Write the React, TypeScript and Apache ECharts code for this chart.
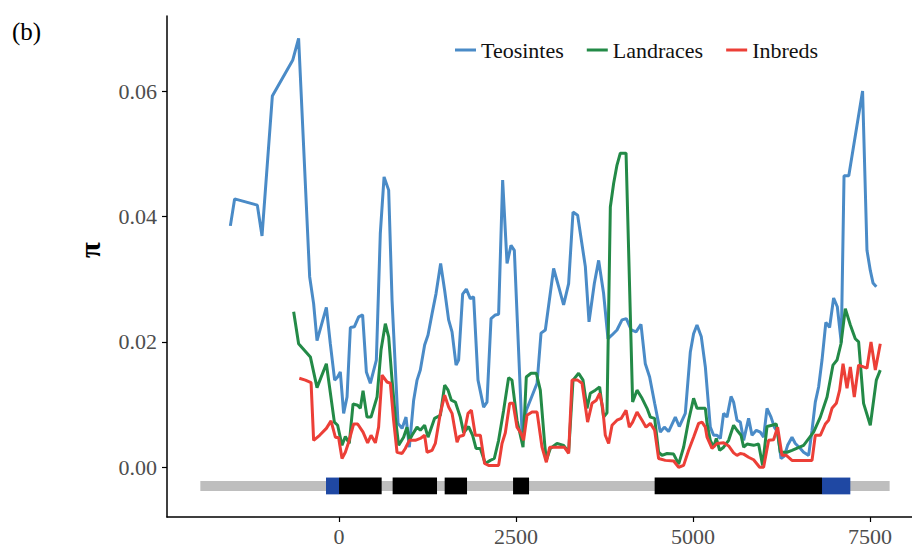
import React, { useEffect, useRef } from "react";
import * as echarts from "echarts";

// x positions (bp) and nucleotide diversity (pi)
const teosintes: [number, number][] = [
  [-1535,0.0385],[-1475,0.0428],[-1154,0.0418],[-1088,0.0369],[-942,0.0592],[-655,0.0649],[-571,0.0684],[-415,0.0304],[-359,0.0261],[-311,0.0202],[-179,0.0255],[-123,0.0197],[-62,0.0139],[-20,0.0144],[18,0.0152],[65,0.0086],[113,0.0112],[160,0.0223],[216,0.0224],[277,0.0240],[333,0.0243],[386,0.0152],[442,0.0134],[527,0.0171],[583,0.0373],[636,0.0463],[701,0.0442],[749,0.0266],[833,0.0070],[890,0.0062],[946,0.0080],[993,0.0032],[1054,0.0107],[1102,0.0139],[1148,0.0155],[1209,0.0195],[1257,0.0211],[1314,0.0245],[1370,0.0277],[1435,0.0325],[1492,0.0282],[1548,0.0235],[1596,0.0216],[1653,0.0163],[1689,0.0171],[1746,0.0276],[1798,0.0284],[1854,0.0269],[1901,0.0272],[1963,0.0139],[2042,0.0096],[2090,0.0104],[2147,0.0237],[2208,0.0243],[2254,0.0244],[2311,0.0458],[2373,0.0325],[2429,0.0354],[2476,0.0346],[2585,0.0056],[2646,0.0091],[2797,0.0134],[2853,0.0214],[2914,0.0219],[3031,0.0317],[3102,0.0288],[3172,0.0259],[3243,0.0293],[3305,0.0407],[3370,0.0402],[3479,0.0320],[3531,0.0232],[3606,0.0293],[3667,0.0330],[3737,0.0277],[3799,0.0205],[3856,0.0211],[3926,0.0219],[3997,0.0235],[4058,0.0237],[4128,0.0219],[4195,0.0216],[4265,0.0228],[4326,0.0165],[4387,0.0144],[4458,0.0102],[4538,0.0056],[4595,0.0064],[4655,0.0057],[4750,0.0080],[4806,0.0065],[4891,0.0086],[4962,0.0184],[5008,0.0213],[5056,0.0227],[5117,0.0208],[5174,0.0160],[5244,0.0064],[5291,0.0051],[5339,0.0051],[5386,0.0046],[5432,0.0086],[5480,0.0080],[5537,0.0113],[5573,0.0104],[5621,0.0075],[5668,0.0072],[5715,0.0043],[5785,0.0078],[5833,0.0051],[5894,0.0059],[5950,0.0056],[5997,0.0048],[6045,0.0094],[6102,0.0080],[6148,0.0064],[6195,0.0056],[6243,0.0014],[6290,0.0018],[6336,0.0035],[6398,0.0048],[6445,0.0038],[6516,0.0030],[6562,0.0024],[6633,0.0019],[6681,0.0059],[6727,0.0104],[6774,0.0128],[6822,0.0171],[6876,0.0231],[6929,0.0223],[6986,0.0270],[7038,0.0256],[7094,0.0199],[7133,0.0465],[7200,0.0465],[7395,0.0600],[7457,0.0346],[7504,0.0314],[7542,0.0294],[7589,0.0288]
];

const landraces: [number, number][] = [
  [-641,0.0248],[-571,0.0197],[-405,0.0176],[-311,0.0127],[-179,0.0165],[-66,0.0072],[-20,0.0067],[42,0.0035],[89,0.0049],[145,0.0038],[198,0.0101],[263,0.0099],[301,0.0094],[339,0.0122],[395,0.0080],[452,0.0080],[537,0.0112],[593,0.0187],[654,0.0229],[701,0.0208],[749,0.0139],[795,0.0080],[842,0.0035],[912,0.0048],[960,0.0064],[993,0.0043],[1031,0.0051],[1102,0.0064],[1148,0.0059],[1209,0.0067],[1257,0.0048],[1350,0.0078],[1431,0.0083],[1492,0.0131],[1540,0.0123],[1586,0.0107],[1643,0.0104],[1713,0.0080],[1760,0.0055],[1830,0.0065],[1887,0.0051],[1935,0.0030],[1996,0.0030],[2066,0.0006],[2137,0.0011],[2193,0.0014],[2254,0.0043],[2325,0.0091],[2395,0.0143],[2443,0.0139],[2514,0.0075],[2599,0.0032],[2645,0.0144],[2712,0.0150],[2787,0.0150],[2843,0.0123],[2904,0.0038],[2928,0.0011],[2984,0.0030],[3079,0.0038],[3172,0.0035],[3243,0.0024],[3305,0.0139],[3384,0.0150],[3446,0.0139],[3503,0.0094],[3549,0.0118],[3620,0.0123],[3681,0.0128],[3737,0.0080],[3785,0.0087],[3832,0.0415],[3879,0.0453],[3926,0.0482],[3973,0.0501],[4054,0.0501],[4147,0.0104],[4209,0.0123],[4280,0.0110],[4350,0.0094],[4397,0.0080],[4458,0.0078],[4514,0.0024],[4562,0.0019],[4633,0.0022],[4726,0.0021],[4797,0.0005],[4867,0.0032],[4938,0.0075],[5008,0.0110],[5056,0.0094],[5174,0.0094],[5198,0.0070],[5244,0.0043],[5291,0.0032],[5329,0.0046],[5376,0.0027],[5432,0.0032],[5503,0.0043],[5573,0.0067],[5621,0.0059],[5678,0.0051],[5715,0.0032],[5763,0.0037],[5856,0.0035],[5926,0.0037],[5983,0.0003],[6045,0.0065],[6116,0.0067],[6176,0.0069],[6233,0.0024],[6328,0.0024],[6398,0.0027],[6562,0.0035],[6703,0.0056],[6798,0.0080],[6893,0.0112],[6977,0.0163],[7034,0.0171],[7090,0.0197],[7151,0.0253],[7222,0.0227],[7292,0.0205],[7339,0.0200],[7409,0.0102],[7504,0.0067],[7589,0.0139],[7645,0.0155]
];

const inbreds: [number, number][] = [
  [-561,0.0142],[-476,0.0139],[-395,0.0135],[-359,0.0043],[-274,0.0051],[-179,0.0062],[-113,0.0074],[-52,0.0048],[-6,0.0047],[42,0.0014],[89,0.0024],[136,0.0040],[206,0.0069],[263,0.0069],[339,0.0056],[404,0.0039],[452,0.0051],[513,0.0039],[559,0.0064],[607,0.0147],[678,0.0136],[725,0.0134],[771,0.0075],[819,0.0024],[890,0.0022],[936,0.0030],[993,0.0043],[1078,0.0043],[1148,0.0046],[1209,0.0051],[1243,0.0024],[1314,0.0027],[1360,0.0038],[1431,0.0086],[1492,0.0115],[1548,0.0096],[1596,0.0086],[1667,0.0040],[1699,0.0049],[1760,0.0051],[1822,0.0086],[1869,0.0091],[1925,0.0051],[1996,0.0051],[2056,0.0006],[2113,0.0003],[2254,0.0003],[2302,0.0038],[2349,0.0055],[2410,0.0102],[2458,0.0102],[2514,0.0064],[2571,0.0054],[2607,0.0043],[2655,0.0083],[2726,0.0088],[2797,0.0088],[2867,0.0032],[2928,0.0008],[2975,0.0032],[3182,0.0032],[3243,0.0022],[3291,0.0139],[3370,0.0139],[3432,0.0134],[3511,0.0072],[3573,0.0102],[3634,0.0107],[3681,0.0118],[3723,0.0096],[3761,0.0051],[3808,0.0038],[3856,0.0067],[3926,0.0075],[3987,0.0078],[4054,0.0091],[4100,0.0064],[4147,0.0072],[4209,0.0088],[4280,0.0075],[4336,0.0064],[4397,0.0070],[4458,0.0059],[4514,0.0014],[4609,0.0011],[4726,0.0010],[4797,0.0000],[4867,0.0003],[4938,0.0027],[5008,0.0048],[5079,0.0070],[5127,0.0072],[5174,0.0064],[5198,0.0048],[5268,0.0030],[5339,0.0038],[5432,0.0039],[5503,0.0034],[5573,0.0023],[5621,0.0019],[5668,0.0022],[5715,0.0021],[5785,0.0016],[5856,0.0012],[5941,0.0000],[5997,0.0000],[6068,0.0043],[6138,0.0044],[6195,0.0064],[6257,0.0019],[6318,0.0019],[6398,0.0011],[6681,0.0011],[6727,0.0051],[6798,0.0051],[6869,0.0069],[6915,0.0075],[6963,0.0094],[7024,0.0102],[7071,0.0123],[7119,0.0165],[7175,0.0126],[7222,0.0160],[7278,0.0112],[7339,0.0163],[7409,0.0160],[7457,0.0158],[7514,0.0200],[7575,0.0155],[7645,0.0197]
];

// gene model: [start, end, kind] kind 0 = flanking, 1 = UTR, 2 = exon
const geneFlank: [number, number, number][] = [[-1959, 7777, 0]];
const geneUTR: [number, number, number][] = [[-184, 0, 1], [6822, 7222, 1]];
const geneExons: [number, number, number][] = [
  [0, 602, 2], [757, 1384, 2], [1492, 1808, 2], [2458, 2684, 2], [4458, 6822, 2]
];

const xTicks = [0, 2500, 5000, 7500];
const yTicks = [0, 0.02, 0.04, 0.06];

const GENE_Y = -0.00298;
const GENE_HALF = [0.0008, 0.00134, 0.00134];
const GENE_COLORS = ["#bebebe", "#1f48a3", "#000000"];

const SERIF = "Liberation Serif";

export default function App() {
  const ref = useRef<HTMLDivElement>(null);
  useEffect(() => {
    if (!ref.current) return;
    const chart = echarts.init(ref.current, null, { renderer: "svg" });
    const axisLabel = { fontFamily: SERIF, fontSize: 22, color: "#4d4d4d" };
    chart.setOption({
      animation: false,
      backgroundColor: "#ffffff",
      grid: { left: 167, right: 0, top: 16, bottom: 29, containLabel: false, outerBoundsMode: "none" },
      legend: {
        left: 455,
        top: 39,
        padding: 0,
        icon: "rect",
        itemWidth: 21,
        itemHeight: 3,
        itemGap: 23,
        selectedMode: false,
        textStyle: { fontFamily: SERIF, fontSize: 22, color: "#111111" },
        data: ["Teosintes", "Landraces", "Inbreds"],
      },
      xAxis: {
        type: "value",
        min: -2430,
        max: 8093,
        axisLine: { show: true, onZero: false, lineStyle: { color: "#000", width: 1.5 } },
        axisTick: { show: true, length: 5, customValues: xTicks, lineStyle: { color: "#000", width: 1.2 } },
        axisLabel: { ...axisLabel, margin: 8, customValues: xTicks, formatter: (v: number) => String(v) },
        splitLine: { show: false },
      },
      yAxis: {
        type: "value",
        min: -0.00793,
        max: 0.07197,
        axisLine: { show: true, onZero: false, lineStyle: { color: "#000", width: 1.5 } },
        axisTick: { show: true, length: 5, customValues: yTicks, lineStyle: { color: "#000", width: 1.2 } },
        axisLabel: { ...axisLabel, margin: 10, customValues: yTicks, formatter: (v: number) => v.toFixed(2) },
        splitLine: { show: false },
      },
      graphic: [
        { type: "text", left: 12, top: 19, style: { text: "(b)", font: `25px ${SERIF}`, fill: "#000" } },
        {
          type: "text",
          x: 90,
          y: 250,
          rotation: Math.PI / 2,
          style: { text: "π", font: `bold 29px ${SERIF}`, fill: "#000", textAlign: "center", textVerticalAlign: "middle" },
        },
      ],
      series: [
        ...[geneFlank, geneUTR, geneExons].map((d) => ({
          type: "custom",
          silent: true,
          data: d,
          encode: { x: [0, 1] },
          renderItem: (params: any, api: any) => {
            const s = api.value(0);
            const e = api.value(1);
            const k = api.value(2);
            const p1 = api.coord([s, GENE_Y + GENE_HALF[k]]);
            const p2 = api.coord([e, GENE_Y - GENE_HALF[k]]);
            return {
              type: "rect",
              shape: { x: p1[0], y: p1[1], width: p2[0] - p1[0], height: p2[1] - p1[1] },
              style: { fill: GENE_COLORS[k] },
            };
          },
        })),
        {
          name: "Teosintes",
          type: "line",
          data: teosintes,
          showSymbol: false,
          color: "#4a8bc7",
          lineStyle: { width: 3, color: "#4a8bc7" },
          z: 3,
        },
        {
          name: "Landraces",
          type: "line",
          data: landraces,
          showSymbol: false,
          color: "#238a47",
          lineStyle: { width: 3, color: "#238a47" },
          z: 4,
        },
        {
          name: "Inbreds",
          type: "line",
          data: inbreds,
          showSymbol: false,
          color: "#ec3f37",
          lineStyle: { width: 3, color: "#ec3f37" },
          z: 5,
        },
      ],
    });
    return () => chart.dispose();
  }, []);
  return (
    <div
      ref={ref}
      style={{ position: "fixed", left: 0, top: 0, width: 912, height: 546, background: "#fff" }}
    />
  );
}
